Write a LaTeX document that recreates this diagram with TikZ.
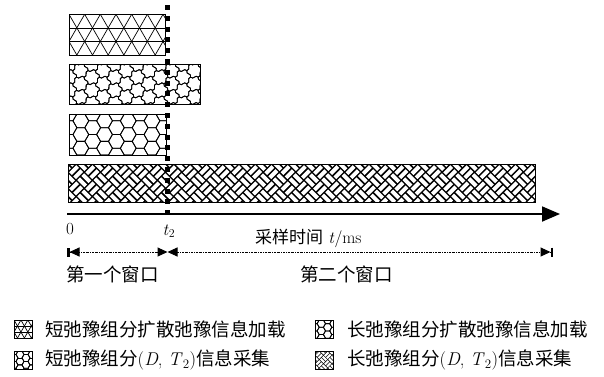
\documentclass[tikz,border=0pt]{standalone}
\usepackage{fontspec}
\newfontfamily\cjk{Noto Sans CJK SC}
\usetikzlibrary{arrows.meta}
\newcommand\tripat[5]{%
\begin{scope}
\clip (#1,#2) rectangle (#3,#4);
\pgfmathsetmacro\hw{#5/sqrt(3)}
\pgfmathtruncatemacro\nn{(#3-#1)/(2*\hw)+12}
\foreach \k in {0,...,8} \draw[line width=0.7pt] (#1,{#2+\k*#5}) -- (#3,{#2+\k*#5});
\foreach \i in {-12,...,\nn} {
  \draw[line width=0.7pt] ({#1+2*\hw*\i},#2) -- ++({10*\hw},{10*#5});
  \draw[line width=0.7pt] ({#1+2*\hw*\i},#2) -- ++({-10*\hw},{10*#5});
}
\end{scope}}
\newcommand\hexpat[5]{%
\begin{scope}
\clip (#1,#2) rectangle (#3,#4);
\pgfmathsetmacro\hh{sqrt(3)*#5}
\pgfmathtruncatemacro\nc{(#3-#1)/(1.5*#5)+1}
\pgfmathtruncatemacro\nr{(#4-#2)/\hh+1}
\foreach \j in {-1,...,\nc} \foreach \k in {-1,...,\nr} {
  \pgfmathsetmacro\cx{#1+1.5*#5*\j}
  \pgfmathsetmacro\cy{#2+\hh*\k+ifthenelse(mod(\j,2)==0,0,\hh/2)}
  \draw[line width=0.8pt,shift={(\cx,\cy)}] (0:#5) -- (60:#5) -- (120:#5) -- (180:#5) -- (240:#5) -- (300:#5) -- cycle;
}
\end{scope}}
\newcommand\clovpat[5]{%
\begin{scope}
\clip (#1,#2) rectangle (#3,#4);
\pgfmathsetmacro\hh{sqrt(3)*#5}
\pgfmathtruncatemacro\nc{(#3-#1)/(1.5*#5)+1}
\pgfmathtruncatemacro\nr{(#4-#2)/\hh+1}
\foreach \j in {-1,...,\nc} \foreach \k in {-1,...,\nr} {
  \pgfmathsetmacro\cx{#1+1.5*#5*\j}
  \pgfmathsetmacro\cy{#2+\hh*\k+ifthenelse(mod(\j,2)==0,0,\hh/2)}
  \foreach \m in {0,...,5}
  \draw[line width=0.8pt,shift={(\cx,\cy)}] ({60*\m}:#5) .. controls +({60*\m+165}:{0.6*#5}) and +({60*\m+345}:{0.6*#5}) .. ({60*\m+60}:#5);
}
\end{scope}}
\newcommand\weavepat[5]{%
\begin{scope}
\clip (#1,#2) rectangle (#3,#4);
\fill (#1,#2) rectangle (#3,#4);
\pgfmathsetmacro\dd{#5/sqrt(2)}
\pgfmathtruncatemacro\na{(#3-#1)/\dd+2}
\pgfmathtruncatemacro\nb{(#4-#2)/\dd+2}
\pgfmathsetmacro\ll{0.44*#5}
\pgfmathsetmacro\oo{0.25*#5}
\pgfmathsetmacro\lw{0.34*#5}
\foreach \a in {-1,...,\na} \foreach \b in {-1,...,\nb} {
  \ifodd\numexpr\a+\b+10\relax\else
   \begin{scope}[shift={({#1+\a*\dd},{#2+\b*\dd})},rotate=45]
    \ifodd\numexpr\b+10\relax
      \draw[white,line width=\lw pt] (-\ll,-\oo) -- (\ll,-\oo) (-\ll,\oo) -- (\ll,\oo);
    \else
      \draw[white,line width=\lw pt] (-\oo,-\ll) -- (-\oo,\ll) (\oo,-\ll) -- (\oo,\ll);
    \fi
   \end{scope}
  \fi
}
\end{scope}}
\tikzset{
  barbox/.style={draw,line width=1pt},
  lab/.style={inner sep=0pt,font=\fontsize{18.5}{21}\selectfont},
  numlab/.style={inner sep=0pt,font=\fontsize{17}{20}\selectfont},
  winline/.style={line width=1pt,dash pattern=on 2pt off 1pt on 0.6pt off 1pt},
}
\begin{document}
\begin{tikzpicture}[x=1pt,y=-1pt]
\useasboundingbox (0,0) rectangle (604,376);
% bars
\tripat{69}{14.3}{165}{55}{13.57}
\draw[barbox] (69,14.3) rectangle (165,55);
\clovpat{69}{64}{200}{104}{7.6}
\draw[barbox] (69,64) rectangle (200,104);
\hexpat{69}{114}{166}{155}{7.9}
\draw[barbox] (69,114) rectangle (166,155);
\weavepat{68}{164}{535}{202}{11.5}
\draw[barbox] (68,164) rectangle (535,202);
% vertical dashed line
\coordinate (dtop) at (167.5,5);
\coordinate (dbot) at (167.5,214);
\draw[line width=5pt,dash pattern=on 5pt off 5.8pt] (dtop) -- (dbot);
% axis
\coordinate (ax0) at (67,214);
\coordinate (ax1) at (560,214);
\draw[line width=1.8pt,-{Triangle[length=18pt,width=15pt]}] (ax0) -- (ax1);
% windows
\coordinate (w0) at (67,252);
\coordinate (wm) at (167.5,252);
\coordinate (w1) at (553,252);
\draw[winline,{Bar[width=9pt,line width=2.5pt]Triangle[length=10pt,width=9pt]}-{Triangle[length=10pt,width=9pt]}] (w0) -- (wm);
\draw[winline,{Triangle[length=10pt,width=9pt]}-{Triangle[length=10pt,width=9pt]Bar[width=9pt,line width=2.5pt]}] (wm) -- (w1);
% labels
\node[numlab] (zero) at (70,229) {0};
\node[numlab] (t2) at (169,231) {\textit{t}\textsubscript{2}};
\node[numlab,anchor=west] (xl) at (255,238) {{\cjk 采样时间} \textit{t}/ms};
\node[lab,anchor=west] (win1) at (66,274) {\cjk 第一个窗口};
\node[lab,anchor=west] (win2) at (300,274) {\cjk 第二个窗口};
% legend
\tripat{14}{320}{32}{338}{6}
\draw[barbox] (14,320) rectangle (32,338);
\clovpat{14}{351}{32}{369}{4}
\draw[barbox] (14,351) rectangle (32,369);
\hexpat{315}{320}{333}{338}{4.2}
\draw[barbox] (315,320) rectangle (333,338);
\weavepat{315}{351}{333}{369}{6}
\draw[barbox] (315,351) rectangle (333,369);
\node[lab,anchor=west] (l1) at (45,329) {\cjk 短弛豫组分扩散弛豫信息加载};
\node[lab,anchor=west] (l2) at (45,360) {{\cjk 短弛豫组分}(\textit{D}, \textit{T}\textsubscript{2}){\cjk 信息采集}};
\node[lab,anchor=west] (l3) at (347,329) {\cjk 长弛豫组分扩散弛豫信息加载};
\node[lab,anchor=west] (l4) at (347,360) {{\cjk 长弛豫组分}(\textit{D}, \textit{T}\textsubscript{2}){\cjk 信息采集}};
\end{tikzpicture}
\end{document}
